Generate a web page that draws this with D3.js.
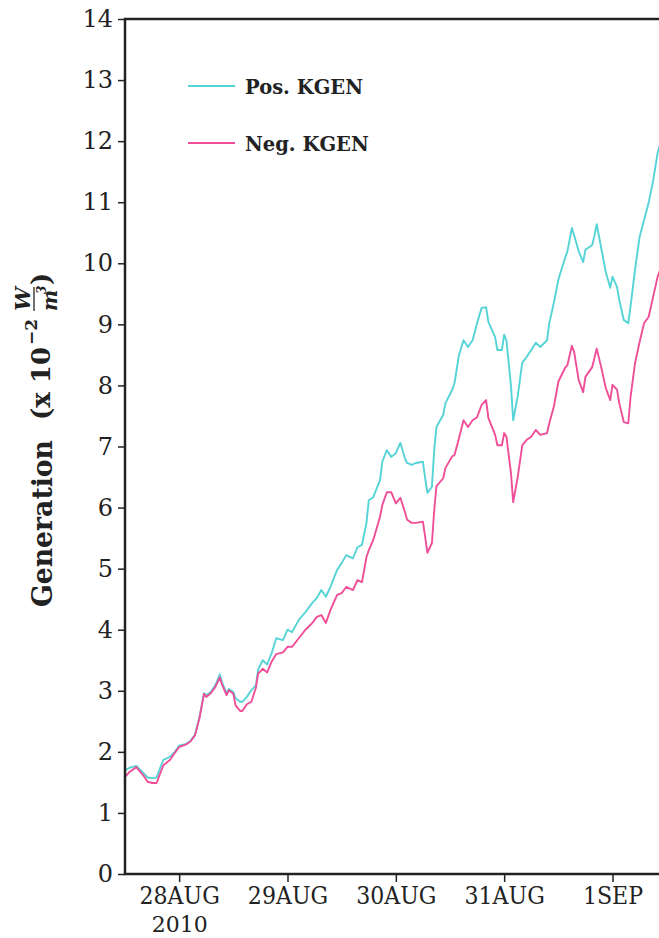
<!DOCTYPE html>
<html>
<head>
<meta charset="utf-8">
<script src="https://cdn.jsdelivr.net/npm/d3@7"></script>
<style>
  body { margin: 0; background: #fff; }
  svg { display: block; }
</style>
</head>
<body>
<svg id="chart"></svg>
<script>
// hours since 28AUG2010 00Z
const hours = [-12, -11, -9.5, -8, -7, -6, -5, -4.5, -3.5, -2, -1, 0, 1.5, 2.5, 3.5, 4.5, 5.5, 6, 7, 8,
  9, 9.5, 10.5, 11, 12, 12.5, 13.5, 14, 15, 16, 17, 17.5, 18.5, 19.5, 20.5, 21.5, 23, 24, 25, 26.5,
  28, 29.5, 30.5, 31.5, 32.5, 33.5, 35, 36, 37, 38.5, 39.5, 40.5, 41.5, 42, 43, 44.5, 45, 46, 47, 48,
  49, 50, 50.5, 51.5, 52.5, 54, 54.5, 55, 56, 56.5, 57, 58.5, 59, 60.5, 61, 62, 63, 64, 65, 66,
  67, 68, 68.5, 70, 70.5, 71.5, 72, 72.5, 73.5, 74, 75, 76, 77, 78, 79, 80, 81.5, 82, 83, 84,
  85.5, 86, 87, 87.5, 88.5, 89.5, 90, 91.5, 92, 92.5, 93.5, 94.5, 95.5, 96, 97, 97.5, 98.5, 99.5, 100, 101,
  102, 103, 104, 105, 106, 107.5];

const posKgen = [1.70, 1.74, 1.77, 1.66, 1.58, 1.57, 1.58, 1.68, 1.87, 1.92, 2.00, 2.10, 2.13, 2.18, 2.28, 2.57, 2.96, 2.93, 2.98, 3.09,
  3.27, 3.14, 2.96, 3.03, 2.98, 2.88, 2.82, 2.82, 2.90, 3.01, 3.09, 3.35, 3.50, 3.43, 3.62, 3.86, 3.83, 4.00, 3.96, 4.16,
  4.29, 4.44, 4.52, 4.65, 4.54, 4.70, 4.98, 5.09, 5.22, 5.17, 5.35, 5.39, 5.75, 6.12, 6.17, 6.45, 6.75, 6.94, 6.83, 6.89,
  7.06, 6.81, 6.73, 6.70, 6.73, 6.75, 6.48, 6.24, 6.34, 6.94, 7.32, 7.52, 7.71, 7.93, 8.04, 8.50, 8.74, 8.63, 8.74, 9.02,
  9.27, 9.28, 9.04, 8.79, 8.58, 8.58, 8.83, 8.74, 8.00, 7.43, 7.82, 8.37, 8.47, 8.58, 8.70, 8.63, 8.74, 9.02, 9.35, 9.73,
  10.09, 10.19, 10.58, 10.46, 10.20, 10.02, 10.22, 10.30, 10.45, 10.64, 10.25, 9.86, 9.60, 9.78, 9.61, 9.40, 9.07, 9.02, 9.30, 9.90,
  10.43, 10.71, 10.99, 11.35, 11.81, 12.20];

const negKgen = [1.59, 1.67, 1.75, 1.62, 1.51, 1.49, 1.49, 1.59, 1.78, 1.87, 1.98, 2.08, 2.12, 2.17, 2.27, 2.55, 2.95, 2.90, 2.96, 3.06,
  3.22, 3.10, 2.93, 3.01, 2.95, 2.76, 2.67, 2.67, 2.78, 2.82, 3.05, 3.28, 3.36, 3.30, 3.48, 3.60, 3.63, 3.72, 3.72, 3.86,
  4.00, 4.11, 4.21, 4.24, 4.11, 4.32, 4.57, 4.60, 4.70, 4.65, 4.81, 4.78, 5.19, 5.30, 5.47, 5.85, 6.04, 6.25, 6.25, 6.07,
  6.16, 5.93, 5.80, 5.75, 5.75, 5.77, 5.52, 5.26, 5.42, 5.95, 6.35, 6.48, 6.65, 6.84, 6.86, 7.14, 7.43, 7.32, 7.43, 7.48,
  7.68, 7.76, 7.47, 7.19, 7.02, 7.02, 7.22, 7.16, 6.57, 6.09, 6.50, 7.02, 7.11, 7.16, 7.27, 7.19, 7.22, 7.38, 7.65, 8.06,
  8.29, 8.33, 8.65, 8.55, 8.09, 7.89, 8.14, 8.30, 8.45, 8.60, 8.30, 7.96, 7.76, 8.01, 7.93, 7.71, 7.40, 7.38, 7.81, 8.37,
  8.71, 9.02, 9.12, 9.45, 9.78, 10.10];

const seriesNames = ["Pos. KGEN", "Neg. KGEN"];
const seriesColors = ["#55d3d6", "#ef4f98"];
const yTicks = d3.range(0, 15);
const dayTicks = [28, 29, 30, 31, 32];   // days of Aug (32 = 1SEP)

const W = 659, H = 938;
const margin = {top: 19, left: 125},
    width = 650,
    height = 855;

const svg = d3.select("#chart").attr("width", W).attr("height", H);

const t0 = Date.UTC(2010, 7, 28);
const toDate = h => new Date(t0 + h * 3600e3);

const x = d3.scaleUtc()
    .domain([toDate(-12), toDate(132)])
    .range([0, width]);
const y = d3.scaleLinear().domain([0, 14]).range([height, 0]);

const g = svg.append("g").attr("transform", `translate(${margin.left},${margin.top})`);

g.append("defs").append("clipPath").attr("id", "clip")
  .append("rect").attr("width", width).attr("height", height);

// lines
const line = d3.line().x(d => x(d[0])).y(d => y(d[1]));
[posKgen, negKgen].forEach((vals, i) => {
  g.append("path")
    .datum(hours.map((h, j) => [toDate(h), vals[j]]))
    .attr("clip-path", "url(#clip)")
    .attr("fill", "none")
    .attr("stroke", seriesColors[i])
    .attr("stroke-width", 1.9)
    .attr("stroke-linejoin", "round")
    .attr("d", line);
});

// y axis
const yAxis = g.append("g")
  .call(d3.axisLeft(y).tickValues(yTicks).tickSize(7).tickPadding(5));
yAxis.select(".domain").remove();
yAxis.selectAll(".tick line").attr("stroke", "#222").attr("stroke-width", 1.5);
yAxis.selectAll(".tick text")
  .attr("font-family", "DejaVu Serif")
  .attr("font-size", 24)
  .attr("fill", "#222");

// x axis
const dayFmt = d => {
  const dt = new Date(d);
  const mon = dt.getUTCMonth() === 7 ? "AUG" : "SEP";
  return dt.getUTCDate() + mon;
};
const xAxis = g.append("g")
  .attr("transform", `translate(0,${height})`)
  .call(d3.axisBottom(x)
    .tickValues(dayTicks.map(d => toDate((d - 28) * 24)))
    .tickFormat(dayFmt).tickSize(8).tickPadding(5));
xAxis.select(".domain").remove();
xAxis.selectAll(".tick line").attr("stroke", "#222").attr("stroke-width", 1.5);
xAxis.selectAll(".tick text")
  .attr("font-family", "DejaVu Serif")
  .attr("font-size", 24)
  .attr("fill", "#222")
  .each(function () {
    const len = this.getComputedTextLength();
    d3.select(this).attr("textLength", len * 0.92).attr("lengthAdjust", "spacingAndGlyphs");
  });
xAxis.select(".tick text").clone()
  .text("2010")
  .attr("font-size", 22)
  .attr("textLength", null)
  .attr("dy", 45);

// frame
g.append("rect")
  .attr("width", width).attr("height", height)
  .attr("fill", "none").attr("stroke", "#222").attr("stroke-width", 2.5);

// legend
const legend = g.append("g").attr("transform", "translate(63,67)");
seriesNames.forEach((name, i) => {
  const row = legend.append("g").attr("transform", `translate(0,${i * 57})`);
  row.append("line").attr("x1", 0).attr("x2", 47)
    .attr("stroke", seriesColors[i]).attr("stroke-width", 1.8);
  row.append("text").attr("x", 57).attr("y", 7.5)
    .attr("font-family", "DejaVu Serif").attr("font-weight", "bold")
    .attr("font-size", 19.5).attr("fill", "#222")
    .text(name);
});

// y label
const yl = svg.append("g")
  .attr("transform", "translate(52,607) rotate(-90)")
  .attr("font-family", "DejaVu Serif").attr("font-weight", "bold").attr("fill", "#222");
yl.append("text").attr("x", 0).attr("y", 0).attr("font-size", 28)
  .attr("textLength", 167).attr("lengthAdjust", "spacingAndGlyphs")
  .text("Generation");
yl.append("text").attr("x", 187).attr("y", -2).attr("font-size", 26)
  .text("(x 10");
yl.append("text").attr("x", 262).attr("y", -15).attr("font-size", 17)
  .text("\u22122");
yl.append("text").attr("x", 308).attr("y", -22).attr("font-size", 21)
  .attr("font-style", "italic").attr("text-anchor", "middle").text("W");
yl.append("line").attr("x1", 296).attr("x2", 320).attr("y1", -18).attr("y2", -18)
  .attr("stroke", "#222").attr("stroke-width", 1.3);
yl.append("text").attr("x", 296).attr("y", 5).attr("font-size", 20)
  .attr("font-style", "italic").text("m");
yl.append("text").attr("x", 313).attr("y", -6).attr("font-size", 12)
  .attr("font-style", "italic").text("3");
yl.append("text").attr("x", 322).attr("y", -2).attr("font-size", 26)
  .text(")");
</script>
</body>
</html>
